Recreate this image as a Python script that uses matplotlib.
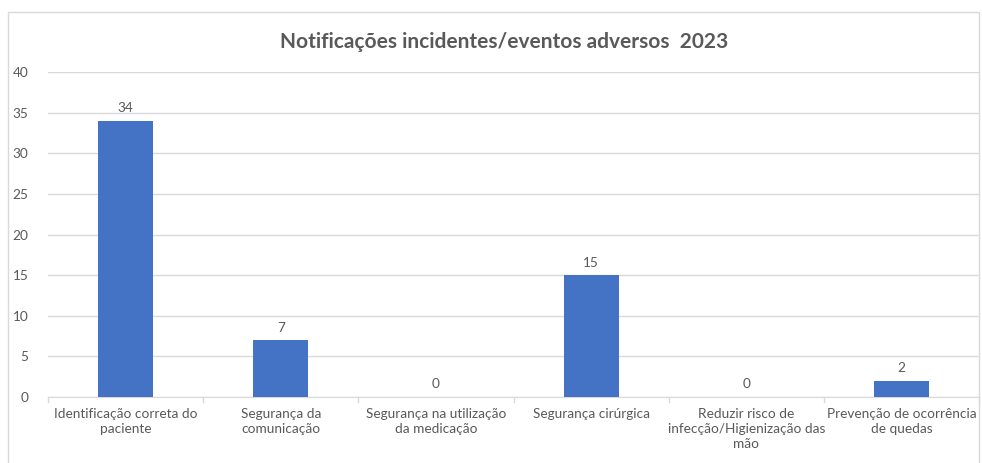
import matplotlib
matplotlib.use("Agg")
import matplotlib.pyplot as plt
from matplotlib.patches import Rectangle

categories = [
    "Identificação correta do\npaciente",
    "Segurança da\ncomunicação",
    "Segurança na utilização\nda medicação",
    "Segurança cirúrgica",
    "Reduzir risco de\ninfecção/Higienização das\nmão",
    "Prevenção de ocorrência\nde quedas",
]
values = [34, 7, 0, 15, 0, 2]
yticks = [0, 5, 10, 15, 20, 25, 30, 35, 40]
title = "Notificações incidentes/eventos adversos  2023"

plt.rcParams['font.family'] = ['Lato', 'DejaVu Sans']
grey = "#595959"
grid = "#d9d9d9"

fig = plt.figure(figsize=(9.82, 4.63), dpi=100)
# chart border
fig.patches.append(Rectangle((8 / 982, -0.05), 971 / 982, 1 - 12 / 463 + 0.05,
                             transform=fig.transFigure, fill=False,
                             edgecolor=grid, linewidth=1))
ax = fig.add_axes([48 / 982, 66 / 463, 931 / 982, 325 / 463])

x = list(range(len(values)))
bars = ax.bar(x, values, width=0.355, color="#4472C4", zorder=3)
for xi, v in zip(x, values):
    ax.text(xi, v + 0.8, str(v), ha="center", va="bottom", fontsize=9.8, color=grey)

ax.set_xlim(-0.5, len(values) - 0.5)
ax.set_ylim(0, 40)
ax.set_yticks(yticks)
ax.yaxis.grid(True, color=grid, linewidth=1, zorder=0)
ax.set_xticks(x)
ax.set_xticklabels(categories, fontsize=9.8, color=grey, linespacing=1.3)
ax.tick_params(axis="x", length=0, pad=8)
ax.tick_params(axis="y", length=0, labelsize=9.8, labelcolor=grey, pad=14)
# boundary tick marks between categories
for b in [i - 0.5 for i in range(len(values) + 1)]:
    ax.plot([b, b], [0, -0.6], color=grid, linewidth=1, clip_on=False)

for s in ["left", "right", "top"]:
    ax.spines[s].set_visible(False)
ax.spines["bottom"].set_color(grid)

fig.text(504 / 982, 1 - 42 / 463, title, ha="center", va="center",
         fontsize=15, fontweight="bold", color=grey)

fig.savefig("out.png", dpi=100)
